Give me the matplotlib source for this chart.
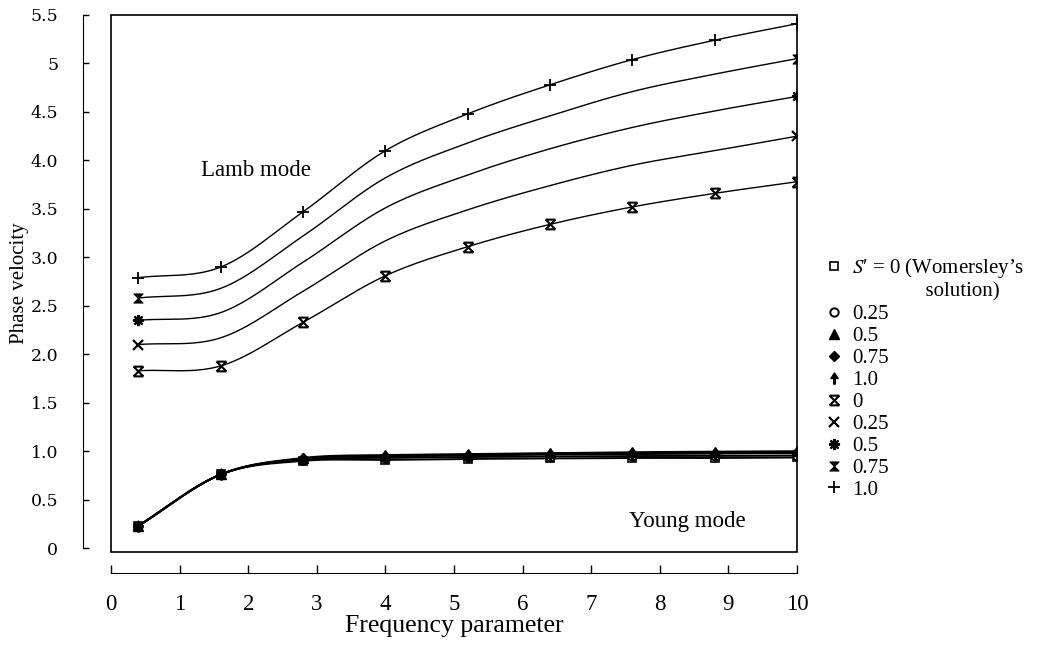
import numpy as np
import matplotlib
matplotlib.use("Agg")
import matplotlib.pyplot as plt
from matplotlib.path import Path

# ---------------- data ----------------
freq = [0.4, 1.6, 2.8, 4.0, 5.2, 6.4, 7.6, 8.8, 10.0]

# Lamb mode, S' = 0, 0.25, 0.5, 0.75, 1.0
lamb_s0 = [1.83, 1.88, 2.33, 2.81, 3.11, 3.34, 3.52, 3.66, 3.78]
lamb_s025 = [2.10, 2.17, 2.65, 3.17, 3.49, 3.74, 3.95, 4.10, 4.25]
lamb_s05 = [2.35, 2.43, 2.95, 3.51, 3.85, 4.12, 4.34, 4.51, 4.66]
lamb_s075 = [2.58, 2.68, 3.22, 3.82, 4.18, 4.46, 4.71, 4.89, 5.05]
lamb_s1 = [2.79, 2.90, 3.47, 4.10, 4.48, 4.78, 5.04, 5.24, 5.41]

# Young mode, S' = 0 (Womersley), 0.25, 0.5, 0.75, 1.0
young_s0 = [0.23, 0.76, 0.90, 0.91, 0.92, 0.925, 0.93, 0.93, 0.935]
young_s025 = [0.23, 0.76, 0.91, 0.93, 0.94, 0.945, 0.95, 0.95, 0.955]
young_s05 = [0.23, 0.76, 0.93, 0.96, 0.97, 0.98, 0.99, 0.995, 1.00]
young_s075 = [0.23, 0.76, 0.925, 0.95, 0.965, 0.975, 0.98, 0.985, 0.99]
young_s1 = [0.23, 0.76, 0.92, 0.945, 0.955, 0.965, 0.97, 0.975, 0.98]

young_labels = ["$S$\u2032 = 0 (Womersley\u2019s", "0.25", "0.5", "0.75", "1.0"]
lamb_labels = ["0", "0.25", "0.5", "0.75", "1.0"]
second_line = "solution)"

yticks = [0, 0.5, 1.0, 1.5, 2.0, 2.5, 3.0, 3.5, 4.0, 4.5, 5.0, 5.5]
ytick_labels = ["0", "0.5", "1.0", "1.5", "2.0", "2.5", "3.0", "3.5", "4.0",
                "4.5", "5", "5.5"]
xticks = list(range(0, 11))
xtick_labels = [str(v) for v in xticks]


# ---------------- helpers ----------------
def smooth(x, y, n=300):
    """Cubic Hermite (Catmull-Rom style) curve through the points, for drawing."""
    x = np.asarray(x, float)
    y = np.asarray(y, float)
    h = np.diff(x)
    delta = np.diff(y) / h
    m = len(x)
    d = np.zeros(m)
    d[0] = delta[0]
    d[-1] = delta[-1]
    for k in range(1, m - 1):
        d[k] = (y[k + 1] - y[k - 1]) / (x[k + 1] - x[k - 1])
    xs = np.linspace(x[0], x[-1], n)
    idx = np.clip(np.searchsorted(x, xs) - 1, 0, m - 2)
    t = (xs - x[idx]) / h[idx]
    h00 = 2 * t ** 3 - 3 * t ** 2 + 1
    h10 = t ** 3 - 2 * t ** 2 + t
    h01 = -2 * t ** 3 + 3 * t ** 2
    h11 = t ** 3 - t ** 2
    ys = (h00 * y[idx] + h10 * h[idx] * d[idx] + h01 * y[idx + 1]
          + h11 * h[idx] * d[idx + 1])
    return xs, ys


# custom markers
xbar = Path([(-1, -1), (1, 1), (-1, 1), (1, -1), (-1, 1), (1, 1), (-1, -1), (1, -1)],
            [Path.MOVETO, Path.LINETO, Path.MOVETO, Path.LINETO,
             Path.MOVETO, Path.LINETO, Path.MOVETO, Path.LINETO])
hourglass = Path([(-1, 1), (1, 1), (0, 0), (-1, 1), (-1, -1), (1, -1), (0, 0), (-1, -1)],
                 [Path.MOVETO, Path.LINETO, Path.LINETO, Path.CLOSEPOLY,
                  Path.MOVETO, Path.LINETO, Path.LINETO, Path.CLOSEPOLY])
arrow = Path([(-0.15, -1), (0.15, -1), (0.15, 0), (0.65, 0), (0, 1), (-0.65, 0),
              (-0.15, 0), (-0.15, -1)],
             [Path.MOVETO] + [Path.LINETO] * 6 + [Path.CLOSEPOLY])

plt.rcParams["font.family"] = ["Liberation Serif", "DejaVu Serif"]
plt.rcParams["mathtext.fontset"] = "stix"

fig = plt.figure(figsize=(10.44, 6.45), dpi=100)
ax = fig.add_axes([111 / 1044, 1 - 552 / 645, (797 - 111) / 1044, (552 - 15) / 645])
ax.set_xlim(0, 10)
ax.set_ylim(-0.04, 5.5)

LW = 1.0

# ---- Young mode ----
young_series = [young_s0, young_s025, young_s05, young_s075, young_s1]
young_style = [
    dict(marker="s", mfc="white", mec="black", ms=6, mew=1.2),
    dict(marker="o", mfc="white", mec="black", ms=6, mew=1.4),
    dict(marker="^", mfc="black", mec="black", ms=7),
    dict(marker="D", mfc="black", mec="black", ms=5),
    dict(marker=arrow, mfc="black", mec="black", ms=8),
]
young_handles = []
for ser in young_series:
    xs, ys = smooth(freq, ser)
    ax.plot(xs, ys, color="black", lw=1.4, zorder=2)
for ser, st, lab in zip(young_series, young_style, young_labels):
    h, = ax.plot(freq, ser, ls="none", color="black", zorder=3, label=lab, **st)
    young_handles.append(h)
# blank entry for second line of the first label
blank, = ax.plot([], [], ls="none", marker="none",
                 label="              " + second_line)

# ---- Lamb mode ----
lamb_series = [lamb_s0, lamb_s025, lamb_s05, lamb_s075, lamb_s1]
lamb_style = [
    dict(marker=xbar, mfc="black", mec="black", ms=7, mew=1.5),
    dict(marker="x", mec="black", ms=7, mew=1.6),
    dict(marker=(8, 2, 0), mec="black", ms=8, mew=1.6),
    dict(marker=hourglass, mfc="black", mec="black", ms=6.5, mew=0.8),
    dict(marker="+", mec="black", ms=8, mew=1.3),
]
lamb_marker_idx = [list(range(9)), [0, 8], [0, 8], [0, 8], list(range(9))]
lamb_handles = []
for ser in lamb_series:
    xs, ys = smooth(freq, ser)
    ax.plot(xs, ys, color="black", lw=LW, zorder=2)
for ser, st, lab, idx in zip(lamb_series, lamb_style, lamb_labels, lamb_marker_idx):
    h, = ax.plot([freq[i] for i in idx], [ser[i] for i in idx], ls="none",
                 color="black", zorder=3, label=lab, **st)
    lamb_handles.append(h)

# ---- annotations ----
ax.text(2.11, 3.90, "Lamb mode", fontsize=16.5, ha="center", va="center")
ax.text(8.4, 0.27, "Young mode", fontsize=16.5, ha="center", va="center")

# ---- axes styling ----
for s in ["top", "right"]:
    ax.spines[s].set_visible(False)
ax.spines["left"].set_position(("outward", 20))
ax.spines["bottom"].set_position(("outward", 15))
ax.spines["left"].set_bounds(0, 5.5)
ax.spines["bottom"].set_bounds(0, 10)
ax.add_patch(plt.Rectangle((0, 0), 1, 1, transform=ax.transAxes, fill=False,
                           lw=1.2, color="black", zorder=5, clip_on=False))

ax.set_yticks(yticks)
ax.set_yticklabels(ytick_labels, fontfamily="DejaVu Serif", fontsize=12.5)
ax.set_xticks(xticks)
ax.set_xticklabels(xtick_labels, fontsize=16.5)
ax.tick_params(axis="y", direction="in", length=4, width=1, pad=18)
ax.tick_params(axis="x", direction="in", length=6, width=1, pad=15)

ax.set_xlabel("Frequency parameter", fontsize=18.5, labelpad=0)
ax.set_ylabel("Phase velocity", fontsize=15, labelpad=1)

handles = [young_handles[0], blank] + young_handles[1:] + lamb_handles
leg = fig.legend(handles=handles, labels=[h.get_label() for h in handles],
                 loc="upper left", bbox_to_anchor=(826 / 1044, 1 - 256 / 645),
                 frameon=False, fontsize=15, handlelength=0.8, handletextpad=0.45,
                 labelspacing=0.115, borderpad=0, borderaxespad=0, numpoints=1)

fig.savefig("out.png", dpi=100)
